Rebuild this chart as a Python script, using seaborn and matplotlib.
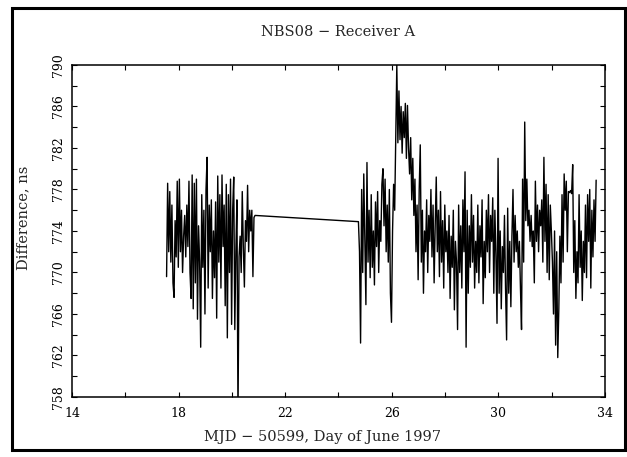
import numpy as np
import pandas as pd
import matplotlib
matplotlib.use("Agg")
import matplotlib.pyplot as plt
from matplotlib.patches import Rectangle
from matplotlib.ticker import MultipleLocator
import seaborn as sns

# Receiver A minus NBS08 time difference (ns), two observing runs
start1, start2, step = 17.55, 24.75, 0.04
diff_run1 = [
    769.6, 778.6, 772.0, 777.8, 771.0, 776.5, 769.0, 767.6, 775.0, 771.5,
    778.8, 770.5, 779.0, 772.0, 776.0, 770.0, 773.5, 775.5, 771.5, 776.5,
    772.5, 778.8, 770.0, 767.5, 779.4, 766.5, 778.6, 769.0, 779.0, 765.5,
    774.5, 771.0, 762.8, 777.5, 770.5, 776.0, 766.0, 778.0, 781.1, 768.5,
    776.5, 772.0, 777.0, 767.5, 774.0, 769.5, 776.8, 765.6, 779.3, 771.0,
    777.5, 768.5, 779.4, 772.5, 776.5, 766.8, 778.5, 763.7, 777.5, 770.0,
    779.0, 765.0, 776.0, 779.2, 764.5, 772.0, 777.0, 756.0, 771.5, 773.5,
    770.0, 777.8, 772.5, 768.6, 775.0, 773.0, 778.4, 772.0, 776.0, 774.0,
    776.0, 769.6, 775.3, 775.5,
]
diff_run2 = [
    774.9, 772.0, 763.2, 778.0, 770.0, 779.5, 773.0, 766.9, 780.6, 771.0,
    776.0, 769.5, 777.5, 770.5, 774.0, 768.8, 776.8, 772.5, 777.8, 770.0,
    775.0, 773.0, 778.5, 780.0, 774.5, 779.0, 772.0, 776.5, 771.0, 778.0,
    768.0, 765.2, 774.0, 778.5, 776.0, 783.0, 790.0, 782.5, 787.5, 782.8,
    786.0, 781.5, 785.5, 783.0, 786.3, 781.0, 786.1, 782.0, 779.5, 783.0,
    777.0, 781.0, 775.5, 779.0, 772.0, 776.5, 769.3, 778.0, 782.3, 771.0,
    776.0, 768.0, 774.0, 772.0, 777.0, 770.0, 775.5, 773.0, 778.0, 771.5,
    776.5, 769.0, 774.5, 779.2, 772.0, 776.0, 769.6, 777.8, 771.0, 775.0,
    768.5, 776.5, 772.0, 774.0, 770.0, 775.5, 767.5, 773.5, 770.5, 776.0,
    766.4, 773.0, 771.0, 764.5, 776.5, 770.0, 774.5, 768.5, 777.0, 772.0,
    779.7, 762.8, 776.0, 768.0, 774.5, 770.5, 777.5, 771.0, 775.5, 768.5,
    773.0, 770.0, 776.5, 769.0, 774.5, 771.5, 777.0, 767.0, 773.0, 769.5,
    776.0, 772.0, 777.5, 770.0, 775.5, 773.0, 777.2, 768.0, 776.0, 771.5,
    765.1, 781.0, 768.0, 774.0, 766.5, 772.5, 770.0, 775.5, 768.5, 763.5,
    776.2, 768.0, 773.0, 766.7, 773.5, 778.0, 771.0, 775.5, 772.0, 774.0,
    770.5, 773.0, 768.5, 764.5, 779.0, 771.0, 784.5, 775.0, 779.0, 774.5,
    776.0, 773.0, 775.5, 772.5, 774.0, 769.0, 778.8, 773.0, 776.5, 772.0,
    776.0, 774.5, 777.0, 771.0, 781.1, 773.0, 778.5, 770.0, 777.5, 769.3,
    776.5, 774.0, 771.0, 766.0, 774.0, 763.0, 772.0, 761.8, 766.5, 773.5,
    769.0, 777.5, 771.0, 779.5, 776.0, 778.8, 772.0, 777.8, 777.7, 777.9,
    777.6, 780.4, 770.0, 775.0, 767.5, 772.0, 769.0, 777.5, 770.5, 774.0,
    767.3, 773.0, 770.0, 776.5, 769.5, 777.5, 773.0, 778.0, 768.5, 776.0,
    771.5, 777.0, 773.0, 778.9,
]

x_ticks = [14, 18, 22, 26, 30, 34]
y_ticks = [758, 762, 766, 770, 774, 778, 782, 786, 790]

mjd = np.concatenate([start1 + step * np.arange(len(diff_run1)),
                      start2 + step * np.arange(len(diff_run2))])
df = pd.DataFrame({"day": mjd, "diff": diff_run1 + diff_run2})

sns.set_style("ticks")
plt.rcParams["font.family"] = ["DejaVu Serif", "DejaVu Sans"]

fig = plt.figure(figsize=(6.27, 4.57), dpi=100)
ax = fig.add_axes([0.1148, 0.1313, 0.850, 0.7265])

sns.lineplot(data=df, x="day", y="diff", sort=False, estimator=None,
             color="black", linewidth=1.0, ax=ax)

ax.set_xlim(14, 34)
ax.set_ylim(758, 790)
ax.set_xticks(x_ticks)
ax.set_yticks(y_ticks)
ax.xaxis.set_minor_locator(MultipleLocator(2))
ax.yaxis.set_minor_locator(MultipleLocator(2))
ax.tick_params(which="both", direction="in", top=True, right=True,
               length=3.5, width=0.8, colors="black")
ax.tick_params(axis="x", which="major", labelsize=9, pad=7)
ax.tick_params(axis="y", which="major", labelsize=9, pad=5)
for lab in ax.get_yticklabels():
    lab.set_rotation(90)
    lab.set_va("center")
for s in ax.spines.values():
    s.set_linewidth(1.1)
    s.set_color("black")

ax.set_xlabel("MJD \u2212 50599, Day of June 1997", fontsize=10.5)
ax.set_ylabel("Difference, ns", fontsize=10.5)
ax.xaxis.set_label_coords(0.47, -0.1)
ax.yaxis.set_label_coords(-0.078, 0.54)
ax.set_title("NBS08 \u2212 Receiver A", fontsize=10.5, pad=21)

# Page frame around the whole figure
frame = Rectangle((12 / 627, 7 / 457), 613 / 627, 442 / 457,
                  transform=fig.transFigure, fill=False,
                  edgecolor="black", linewidth=2.2)
fig.patches.append(frame)

fig.savefig("out.png", dpi=100)
